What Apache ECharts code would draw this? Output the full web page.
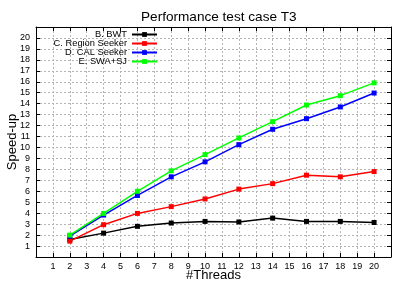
<!DOCTYPE html>
<html><head><meta charset="utf-8">
<script src="https://cdn.jsdelivr.net/npm/echarts@6/dist/echarts.min.js"></script>
<style>html,body{margin:0;padding:0;background:#fff}#c{width:407px;height:285px}</style>
</head><body><div id="c"></div>
<script>
const threads = [2, 4, 6, 8, 10, 12, 14, 16, 18, 20];
const xTicks = [1,2,3,4,5,6,7,8,9,10,11,12,13,14,15,16,17,18,19,20];
const yTicks = [1,2,3,4,5,6,7,8,9,10,11,12,13,14,15,16,17,18,19,20];
const seriesNames = ['B. BWT', 'C. Region Seeker', 'D. CAL Seeker', 'E. SWA+SJ'];
const bwt = [1.6, 2.18, 2.8, 3.1, 3.25, 3.2, 3.55, 3.25, 3.25, 3.15];
const region = [1.45, 2.95, 3.98, 4.6, 5.3, 6.2, 6.7, 7.47, 7.32, 7.8];
const cal = [1.9, 3.83, 5.62, 7.32, 8.69, 10.26, 11.66, 12.63, 13.7, 14.97];
const swa = [2.0, 3.98, 6.0, 7.87, 9.35, 10.87, 12.36, 13.88, 14.73, 15.9];
const colors = ['#000000', '#ff0000', '#0000ff', '#00ff00'];
const values = [bwt, region, cal, swa];

const font = 'Liberation Sans, Arial, sans-serif';
const chart = echarts.init(document.getElementById('c'));
const gridLine = {show: true, lineStyle: {color: '#b4b4b4', type: [2, 2], width: 1}};
const baseX = {
  type: 'value', min: 0, max: 21, interval: 1,
  axisLine: {show: true, onZero: false, lineStyle: {color: '#000', width: 1}},
  axisTick: {show: true, inside: true, length: 4, lineStyle: {color: '#000'},
             customValues: xTicks},
  splitLine: gridLine
};
const baseY = {
  type: 'value', min: 0, max: 21, interval: 1,
  axisLine: {show: true, onZero: false, lineStyle: {color: '#000', width: 1}},
  axisTick: {show: true, inside: true, length: 4, lineStyle: {color: '#000'},
             customValues: yTicks},
  splitLine: gridLine
};
const option = {
  animation: false,
  textStyle: {fontFamily: font},
  title: {text: 'Performance test case T3', left: 136, top: 5,
          textStyle: {fontFamily: font, fontSize: 13.6, fontWeight: 'normal', color: '#000'}},
  grid: {left: 36, right: 16, top: 27, bottom: 28, outerBoundsMode: 'none', containLabel: false},
  legend: seriesNames.map((n, i) => ({
    data: [n], orient: 'vertical', align: 'right', right: 249, top: 30 + i * 9,
    itemWidth: 25, itemHeight: 6, padding: 0, itemGap: 0,
    textStyle: {fontFamily: font, fontSize: 9.3, color: '#000', padding: [0, 0, 0, 0]}
  })),
  xAxis: [
    Object.assign({}, baseX, {
      position: 'bottom',
      name: '#Threads', nameLocation: 'middle', nameGap: 18, nameMoveOverlap: false,
      nameTextStyle: {fontFamily: font, fontSize: 13, color: '#000', verticalAlign: 'middle', padding: [0,0,0,0]},
      axisLabel: {show: true, fontSize: 9, color: '#000', fontFamily: font, margin: 5,
                  customValues: xTicks}
    }),
    Object.assign({}, baseX, {position: 'top', axisLabel: {show: false}, splitLine: {show: false}})
  ],
  yAxis: [
    Object.assign({}, baseY, {
      position: 'left',
      name: 'Speed-up', nameLocation: 'middle', nameGap: 17, nameRotate: 90, nameMoveOverlap: false,
      nameTextStyle: {fontFamily: font, fontSize: 13, color: '#000'},
      axisLabel: {show: true, fontSize: 9, color: '#000', fontFamily: font, margin: 6,
                  customValues: yTicks}
    }),
    Object.assign({}, baseY, {position: 'right', axisLabel: {show: false}, splitLine: {show: false}})
  ],
  series: seriesNames.map((n, i) => ({
    name: n, type: 'line', xAxisIndex: 0, yAxisIndex: 0,
    data: threads.map((t, j) => [t, values[i][j]]),
    symbol: 'rect', symbolSize: 5, showSymbol: true,
    lineStyle: {color: colors[i], width: 1.5},
    itemStyle: {color: colors[i]}
  }))
};
chart.setOption(option);
</script></body></html>
